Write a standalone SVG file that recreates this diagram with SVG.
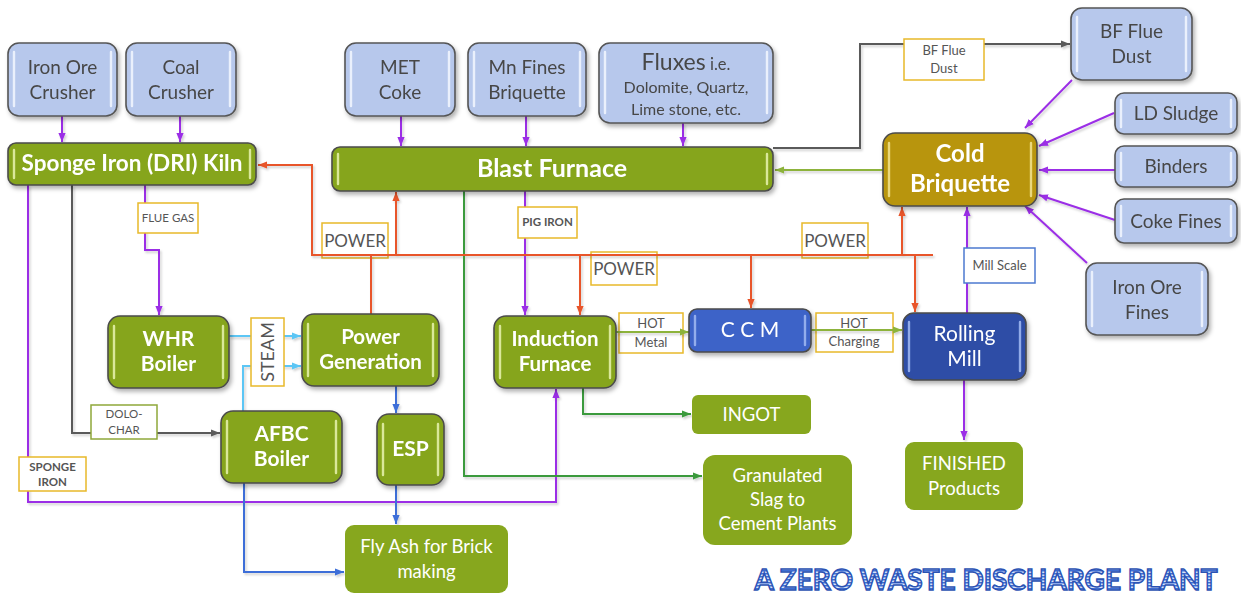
<svg xmlns="http://www.w3.org/2000/svg" width="1241" height="595" viewBox="0 0 1241 595">
  <defs>
    <style>
      text { font-family: Lato, "Liberation Sans", sans-serif; text-anchor: middle; }
      .in { fill: #B7C8EC; stroke: #555; stroke-width: 1.6; }
      .pr { fill: #86A51C; stroke: #4B4B4B; stroke-width: 1.6; }
      .gold { fill: #B8950C; stroke: #4B4B4B; stroke-width: 1.6; }
      .ccm { fill: #3E63C8; stroke: #4B4B4B; stroke-width: 1.6; }
      .rm { fill: #2D4DA6; stroke: #4B4B4B; stroke-width: 1.6; }
      .out { fill: #87A71E; }
      .gl { stroke: #F4F8FF; stroke-width: 2.4; stroke-linecap: round; opacity: 0.85; }
      .gg { stroke: #E4F0A8; stroke-width: 2.4; stroke-linecap: round; opacity: 0.9; }
      .gy2 { stroke: #F0E08A; stroke-width: 2.4; stroke-linecap: round; opacity: 0.9; }
      .gb { stroke: #9DB6F0; stroke-width: 2.4; stroke-linecap: round; opacity: 0.9; }
      .ti { font-size: 19px; fill: #474747; }
      .tp { fill: #fff; font-weight: bold; }
      .to { font-size: 18.5px; fill: #fff; }
      .lb { fill: #fff; stroke: #E8B92A; stroke-width: 1.5; }
      .lbn { fill: none; stroke: #E8B92A; stroke-width: 1.5; }
      .tl { font-size: 13px; fill: #555; }
      .ts { font-size: 11.5px; fill: #555; }
      .tsb { font-size: 11.5px; fill: #555; font-weight: bold; }
      .tpow { font-size: 17px; fill: #555; }
      .c { fill: none; stroke-width: 2; }
      .pu { stroke: #9B2FE6; }
      .or { stroke: #E8552A; }
      .gy { stroke: #5A5A5A; }
      .yg { stroke: #8DB33A; }
      .gr { stroke: #3A9A3C; }
      .lbl { stroke: #5CC6F5; }
      .bl { stroke: #3C6ED8; }
    </style>
    <filter id="sh" x="-10%" y="-10%" width="130%" height="140%">
      <feDropShadow dx="2" dy="3" stdDeviation="2" flood-color="#000" flood-opacity="0.3"/>
    </filter>
    <filter id="lsh" x="-5%" y="-5%" width="110%" height="110%">
      <feDropShadow dx="1.5" dy="2" stdDeviation="1.2" flood-color="#000" flood-opacity="0.18"/>
    </filter>
    <marker id="aPu" viewBox="0 0 10 10" refX="10" refY="5" markerWidth="9" markerHeight="9" markerUnits="userSpaceOnUse" orient="auto"><path d="M0,1 L10,5 L0,9 z" fill="#9B2FE6"/></marker>
    <marker id="aOr" viewBox="0 0 10 10" refX="10" refY="5" markerWidth="9" markerHeight="9" markerUnits="userSpaceOnUse" orient="auto"><path d="M0,1 L10,5 L0,9 z" fill="#E8552A"/></marker>
    <marker id="aGy" viewBox="0 0 10 10" refX="10" refY="5" markerWidth="9" markerHeight="9" markerUnits="userSpaceOnUse" orient="auto"><path d="M0,1 L10,5 L0,9 z" fill="#5A5A5A"/></marker>
    <marker id="aYg" viewBox="0 0 10 10" refX="10" refY="5" markerWidth="9" markerHeight="9" markerUnits="userSpaceOnUse" orient="auto"><path d="M0,1 L10,5 L0,9 z" fill="#8DB33A"/></marker>
    <marker id="aGr" viewBox="0 0 10 10" refX="10" refY="5" markerWidth="9" markerHeight="9" markerUnits="userSpaceOnUse" orient="auto"><path d="M0,1 L10,5 L0,9 z" fill="#3A9A3C"/></marker>
    <marker id="aLb" viewBox="0 0 10 10" refX="10" refY="5" markerWidth="9" markerHeight="9" markerUnits="userSpaceOnUse" orient="auto"><path d="M0,1 L10,5 L0,9 z" fill="#5CC6F5"/></marker>
    <marker id="aBl" viewBox="0 0 10 10" refX="10" refY="5" markerWidth="9" markerHeight="9" markerUnits="userSpaceOnUse" orient="auto"><path d="M0,1 L10,5 L0,9 z" fill="#3C6ED8"/></marker>
    <pattern id="stripe" width="8" height="3" patternUnits="userSpaceOnUse">
      <rect width="8" height="3" fill="#D6E3FA"/>
      <rect width="8" height="1.5" fill="#3F6ED4"/>
    </pattern>
  </defs>

  <rect width="1241" height="595" fill="#fff"/>

  <!-- unfilled label frames that sit beneath their lines -->
  <g id="labels-under">
    <g id="lbl-hot-metal"><rect class="lbn" x="619" y="313" width="64" height="40"/><text class="tl" x="651" y="328">HOT</text><text class="tl" x="651" y="347">Metal</text></g>
    <g id="lbl-hot-charging"><rect class="lbn" x="816" y="313" width="77" height="39"/><text class="tl" x="854" y="328">HOT</text><text class="tl" x="854" y="346">Charging</text></g>
    <g id="lbl-power-1"><rect class="lbn" x="322" y="223" width="66" height="35"/><text class="tpow" x="355" y="247">POWER</text></g>
    <g id="lbl-power-2"><rect class="lbn" x="591" y="252" width="66" height="33"/><text class="tpow" x="624" y="275">POWER</text></g>
    <g id="lbl-power-3"><rect class="lbn" x="802" y="223" width="66" height="35"/><text class="tpow" x="835" y="247">POWER</text></g>
  </g>

  <g id="connectors" filter="url(#lsh)">
    <!-- raw materials into kiln and furnace -->
    <path class="c pu" d="M62,116 V142" marker-end="url(#aPu)"/>
    <path class="c pu" d="M180,116 V142" marker-end="url(#aPu)"/>
    <path class="c pu" d="M401,116 V146" marker-end="url(#aPu)"/>
    <path class="c pu" d="M526,116 V146" marker-end="url(#aPu)"/>
    <path class="c pu" d="M683,123 V146" marker-end="url(#aPu)"/>
    <!-- kiln outputs -->
    <path class="c pu" d="M145,185 V250 H159 V315" marker-end="url(#aPu)"/>
    <path class="c pu" d="M28,185 V502 H556 V389" marker-end="url(#aPu)"/>
    <path class="c gy" d="M72,185 V433 H220" marker-end="url(#aGy)"/>
    <!-- blast furnace outputs -->
    <path class="c pu" d="M525,191 V315" marker-end="url(#aPu)"/>
    <path class="c gy" d="M773,148 H860 V44 H1070" marker-end="url(#aGy)"/>
    <path class="c gr" d="M464,191 V476 H702" marker-end="url(#aGr)"/>
    <path class="c yg" d="M883,170 H775" marker-end="url(#aYg)"/>
    <!-- cold briquette inputs -->
    <path class="c pu" d="M1072,80 L1025,128" marker-end="url(#aPu)"/>
    <path class="c pu" d="M1114,113 L1039,146" marker-end="url(#aPu)"/>
    <path class="c pu" d="M1115,170 L1039,170" marker-end="url(#aPu)"/>
    <path class="c pu" d="M1115,220 L1039,195" marker-end="url(#aPu)"/>
    <path class="c pu" d="M1087,263 L1025,206" marker-end="url(#aPu)"/>
    <path class="c pu" d="M967,313 V207" marker-end="url(#aPu)"/>
    <!-- power distribution -->
    <path class="c or" d="M933,255 H312 V165 H258" marker-end="url(#aOr)"/>
    <path class="c or" d="M371,314 V255"/>
    <path class="c or" d="M396,255 V192" marker-end="url(#aOr)"/>
    <path class="c or" d="M580,255 V315" marker-end="url(#aOr)"/>
    <path class="c or" d="M751,255 V308" marker-end="url(#aOr)"/>
    <path class="c or" d="M902,255 V207" marker-end="url(#aOr)"/>
    <path class="c or" d="M915,255 V312" marker-end="url(#aOr)"/>
    <!-- steam -->
    <path class="c lbl" d="M229,336 H301" marker-end="url(#aLb)"/>
    <path class="c lbl" d="M243,411 V366 H301" marker-end="url(#aLb)"/>
    <!-- ash handling -->
    <path class="c bl" d="M396,386 V413" marker-end="url(#aBl)"/>
    <path class="c bl" d="M396,485 V524" marker-end="url(#aBl)"/>
    <path class="c bl" d="M244,483 V572 H344" marker-end="url(#aBl)"/>
    <!-- steel making -->
    <path class="c yg" d="M616,332 H689" marker-end="url(#aYg)"/>
    <path class="c yg" d="M811,330 H902" marker-end="url(#aYg)"/>
    <path class="c gr" d="M583,388 V414 H691" marker-end="url(#aGr)"/>
    <path class="c pu" d="M964,380 V440" marker-end="url(#aPu)"/>
  </g>

  <!-- filled labels that cover their lines -->
  <g id="labels-over">
    <g id="lbl-flue-gas"><rect class="lb" x="138" y="203" width="60" height="30"/><text class="ts" x="168" y="222">FLUE GAS</text></g>
    <g id="lbl-pig-iron"><rect class="lb" x="518" y="207" width="59" height="31"/><text class="tsb" x="547.5" y="226">PIG IRON</text></g>
    <g id="lbl-bf-dust"><rect class="lb" x="904" y="39" width="80" height="41"/><text class="tl" x="944" y="55">BF Flue</text><text class="tl" x="944" y="73">Dust</text></g>
    <g id="lbl-mill-scale"><rect fill="#fff" stroke="#4C79D0" stroke-width="1.5" x="964" y="248" width="71" height="35"/><text class="tl" x="999.5" y="270">Mill Scale</text></g>
    <g id="lbl-steam"><rect class="lb" x="251" y="318" width="33" height="68"/><text font-size="18" fill="#555" transform="translate(274,352) rotate(-90)">STEAM</text></g>
    <g id="lbl-dolo-char"><rect fill="#fff" stroke="#8FA83A" stroke-width="1.5" x="91" y="405" width="66" height="34"/><text class="ts" x="124" y="418">DOLO-</text><text class="ts" x="124" y="434">CHAR</text></g>
    <g id="lbl-sponge-iron"><rect class="lb" x="19" y="457" width="67" height="34"/><text class="tsb" x="52.5" y="471">SPONGE</text><text class="tsb" x="52.5" y="486">IRON</text></g>
  </g>

  <!-- raw material nodes -->
  <g id="iron-ore-crusher" filter="url(#sh)"><rect class="in" x="8" y="43" width="109" height="73" rx="11"/><line class="gl" x1="14" y1="52" x2="14" y2="106"/><line class="gl" x1="111" y1="52" x2="111" y2="106"/><text class="ti" x="62.5" y="74">Iron Ore</text><text class="ti" x="62.5" y="99">Crusher</text></g>
  <g id="coal-crusher" filter="url(#sh)"><rect class="in" x="126" y="43" width="110" height="73" rx="11"/><line class="gl" x1="132" y1="52" x2="132" y2="106"/><line class="gl" x1="230" y1="52" x2="230" y2="106"/><text class="ti" x="181" y="74">Coal</text><text class="ti" x="181" y="99">Crusher</text></g>
  <g id="met-coke" filter="url(#sh)"><rect class="in" x="345" y="43" width="110" height="73" rx="11"/><line class="gl" x1="351" y1="52" x2="351" y2="106"/><line class="gl" x1="449" y1="52" x2="449" y2="106"/><text class="ti" x="400" y="74">MET</text><text class="ti" x="400" y="99">Coke</text></g>
  <g id="mn-fines" filter="url(#sh)"><rect class="in" x="468" y="43" width="118" height="73" rx="11"/><line class="gl" x1="474" y1="52" x2="474" y2="106"/><line class="gl" x1="580" y1="52" x2="580" y2="106"/><text class="ti" x="527" y="74">Mn Fines</text><text class="ti" x="527" y="99">Briquette</text></g>
  <g id="fluxes" filter="url(#sh)"><rect class="in" x="599" y="43" width="174" height="80" rx="11"/><line class="gl" x1="605" y1="52" x2="605" y2="113"/><line class="gl" x1="767" y1="52" x2="767" y2="113"/><text x="686" y="70" fill="#474747"><tspan font-size="23">Fluxes</tspan><tspan font-size="16.5"> i.e.</tspan></text><text x="686" y="93" font-size="16" fill="#474747">Dolomite, Quartz,</text><text x="686" y="115" font-size="16" fill="#474747">Lime stone, etc.</text></g>
  <g id="bf-flue-dust" filter="url(#sh)"><rect class="in" x="1071" y="8" width="121" height="72" rx="11"/><line class="gl" x1="1077" y1="17" x2="1077" y2="71"/><line class="gl" x1="1186" y1="17" x2="1186" y2="71"/><text class="ti" x="1131.5" y="38">BF Flue</text><text class="ti" x="1131.5" y="63">Dust</text></g>
  <g id="ld-sludge" filter="url(#sh)"><rect class="in" x="1115" y="93" width="122" height="41" rx="9"/><line class="gl" x1="1121" y1="100" x2="1121" y2="127"/><line class="gl" x1="1231" y1="100" x2="1231" y2="127"/><text class="ti" x="1176" y="120">LD Sludge</text></g>
  <g id="binders" filter="url(#sh)"><rect class="in" x="1115" y="146" width="122" height="41" rx="9"/><line class="gl" x1="1121" y1="153" x2="1121" y2="180"/><line class="gl" x1="1231" y1="153" x2="1231" y2="180"/><text class="ti" x="1176" y="173">Binders</text></g>
  <g id="coke-fines" filter="url(#sh)"><rect class="in" x="1115" y="199" width="122" height="44" rx="9"/><line class="gl" x1="1121" y1="206" x2="1121" y2="236"/><line class="gl" x1="1231" y1="206" x2="1231" y2="236"/><text class="ti" x="1176" y="228">Coke Fines</text></g>
  <g id="iron-ore-fines" filter="url(#sh)"><rect class="in" x="1086" y="263" width="122" height="72" rx="11"/><line class="gl" x1="1092" y1="272" x2="1092" y2="326"/><line class="gl" x1="1202" y1="272" x2="1202" y2="326"/><text class="ti" x="1147" y="294">Iron Ore</text><text class="ti" x="1147" y="319">Fines</text></g>

  <!-- process nodes -->
  <g id="dri-kiln" filter="url(#sh)"><rect class="pr" x="8" y="143" width="248" height="42" rx="8"/><line class="gg" x1="14" y1="150" x2="14" y2="178"/><line class="gg" x1="250" y1="150" x2="250" y2="178"/><text class="tp" style="font-size:22.5px" x="132" y="171">Sponge Iron (DRI) Kiln</text></g>
  <g id="blast-furnace" filter="url(#sh)"><rect class="pr" x="332" y="147" width="441" height="44" rx="8"/><line class="gg" x1="338" y1="154" x2="338" y2="184"/><line class="gg" x1="767" y1="154" x2="767" y2="184"/><text class="tp" style="font-size:25px" x="552" y="177">Blast Furnace</text></g>
  <g id="cold-briquette" filter="url(#sh)"><rect class="gold" x="883" y="133" width="154" height="73" rx="12"/><line class="gy2" x1="889" y1="143" x2="889" y2="196"/><line class="gy2" x1="1031" y1="143" x2="1031" y2="196"/><text class="tp" style="font-size:24px" x="960" y="162">Cold</text><text class="tp" style="font-size:24px" x="960" y="192">Briquette</text></g>
  <g id="whr-boiler" filter="url(#sh)"><rect class="pr" x="108" y="316" width="121" height="72" rx="12"/><line class="gg" x1="114" y1="326" x2="114" y2="378"/><line class="gg" x1="223" y1="326" x2="223" y2="378"/><text class="tp" style="font-size:21px" x="168.5" y="346">WHR</text><text class="tp" style="font-size:21px" x="168.5" y="371">Boiler</text></g>
  <g id="power-generation" filter="url(#sh)"><rect class="pr" x="302" y="314" width="137" height="72" rx="12"/><line class="gg" x1="308" y1="324" x2="308" y2="376"/><line class="gg" x1="433" y1="324" x2="433" y2="376"/><text class="tp" style="font-size:20.5px" x="370.5" y="344">Power</text><text class="tp" style="font-size:20.5px" x="370.5" y="369">Generation</text></g>
  <g id="induction-furnace" filter="url(#sh)"><rect class="pr" x="494" y="316" width="122" height="72" rx="12"/><line class="gg" x1="500" y1="326" x2="500" y2="378"/><line class="gg" x1="610" y1="326" x2="610" y2="378"/><text class="tp" style="font-size:20.5px" x="555" y="346">Induction</text><text class="tp" style="font-size:20.5px" x="555" y="371">Furnace</text></g>
  <g id="ccm" filter="url(#sh)"><rect class="ccm" x="689" y="309" width="122" height="43" rx="8"/><line class="gb" x1="695" y1="316" x2="695" y2="345"/><line class="gb" x1="805" y1="316" x2="805" y2="345"/><text x="750" y="337" font-size="21" fill="#fff">C C M</text></g>
  <g id="rolling-mill" filter="url(#sh)"><rect class="rm" x="903" y="313" width="123" height="67" rx="11"/><line class="gb" x1="909" y1="322" x2="909" y2="371"/><line class="gb" x1="1020" y1="322" x2="1020" y2="371"/><text x="964.5" y="341" font-size="21" fill="#fff">Rolling</text><text x="964.5" y="366" font-size="21" fill="#fff">Mill</text></g>
  <g id="afbc-boiler" filter="url(#sh)"><rect class="pr" x="221" y="411" width="121" height="72" rx="12"/><line class="gg" x1="227" y1="421" x2="227" y2="473"/><line class="gg" x1="336" y1="421" x2="336" y2="473"/><text class="tp" style="font-size:21px" x="281.5" y="441">AFBC</text><text class="tp" style="font-size:21px" x="281.5" y="466">Boiler</text></g>
  <g id="esp" filter="url(#sh)"><rect class="pr" x="377" y="414" width="67" height="71" rx="12"/><line class="gg" x1="383" y1="424" x2="383" y2="475"/><line class="gg" x1="438" y1="424" x2="438" y2="475"/><text class="tp" style="font-size:21px" x="410.5" y="456">ESP</text></g>

  <!-- product nodes -->
  <g id="fly-ash"><rect class="out" x="345" y="525" width="163" height="68" rx="9"/><text class="to" x="426.5" y="553">Fly Ash for Brick</text><text class="to" x="426.5" y="578">making</text></g>
  <g id="ingot"><rect class="out" x="692" y="395" width="119" height="39" rx="6"/><text class="to" x="751.5" y="421">INGOT</text></g>
  <g id="granulated-slag"><rect class="out" x="703" y="455" width="149" height="90" rx="12"/><text class="to" x="777.5" y="482">Granulated</text><text class="to" x="777.5" y="506">Slag to</text><text class="to" x="777.5" y="530">Cement Plants</text></g>
  <g id="finished-products"><rect class="out" x="905" y="442" width="118" height="68" rx="9"/><text class="to" x="964" y="470">FINISHED</text><text class="to" x="964" y="495">Products</text></g>

  <!-- heading -->
  <text id="title" x="986" y="590" font-family="'DejaVu Sans', 'Liberation Sans', sans-serif" font-weight="bold" font-size="29" fill="url(#stripe)" stroke="#2B52B3" stroke-width="1.5" textLength="463" lengthAdjust="spacingAndGlyphs">A ZERO WASTE DISCHARGE PLANT</text>
</svg>
